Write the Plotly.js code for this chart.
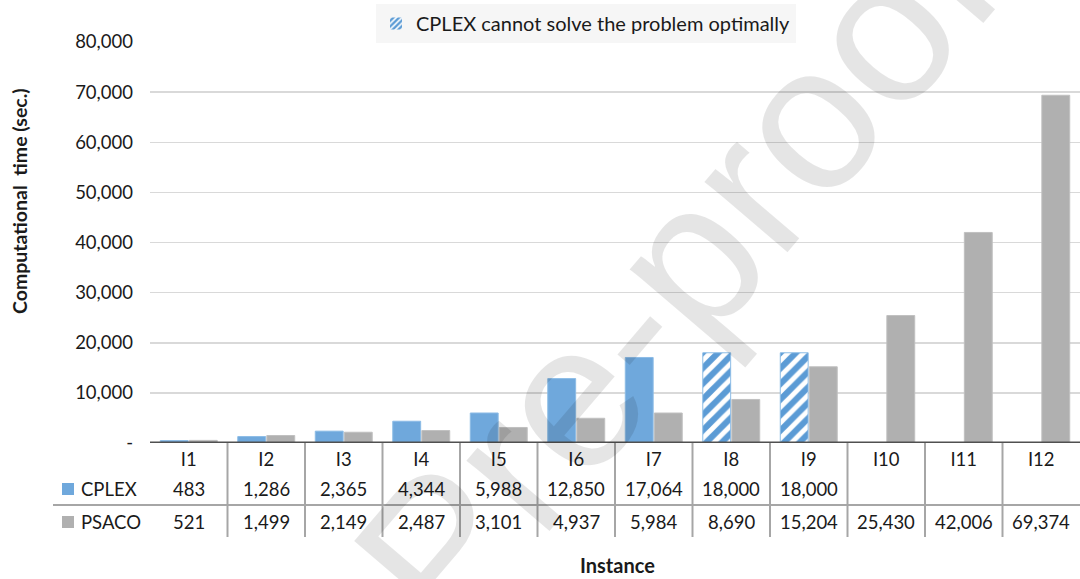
<!DOCTYPE html>
<html>
<head>
<meta charset="utf-8">
<script src="https://cdn.plot.ly/plotly-3.0.1.min.js"></script>
<style>html,body{margin:0;padding:0;background:#fff;}#chart{width:1080px;height:579px;}</style>
</head>
<body>
<div id="chart"></div>
<script>
// ---- data ----
const categories = ['I1','I2','I3','I4','I5','I6','I7','I8','I9','I10','I11','I12'];
const cplexValues = [483, 1286, 2365, 4344, 5988, 12850, 17064, 18000, 18000, null, null, null];
const psacoValues = [521, 1499, 2149, 2487, 3101, 4937, 5984, 8690, 15204, 25430, 42006, 69374];
const cplexNotOptimal = [false, false, false, false, false, false, false, true, true, false, false, false];
const seriesNames = ['CPLEX', 'PSACO'];
const legendLabel = 'CPLEX cannot solve the problem optimally';
const yTickVals = [0, 10000, 20000, 30000, 40000, 50000, 60000, 70000, 80000];
const yTickText = ['-', '10,000', '20,000', '30,000', '40,000', '50,000', '60,000', '70,000', '80,000'];
const yTitle = 'Computational&nbsp; time (sec.)';
const xTitle = 'Instance';
const watermark = 'Journal Pre-proof';

// ---- style ----
const FONT = 'Lato, "Open Sans", sans-serif';
const BLUE = 'rgb(111,168,220)';
const BLUE_EDGE = 'rgb(140,188,230)';
const HATCH_BLUE = 'rgb(91,155,213)';
const GRAY = 'rgb(176,176,176)';
const GRAY_EDGE = 'rgb(192,192,192)';
const TXT = '#1a1a1a';
const TABLE_LINE = '#a6a6a6';

// pixel helpers for paper coordinates (plot: x 150..1080, y 42..443)
const L = 150, R = 1080, T = 42, B = 443;
const px = v => (v - L) / (R - L);
const py = v => (B - v) / (B - T);

const fmt = v => (v === null || v === undefined) ? '' : v.toLocaleString('en-US');

const traces = [
  {
    type: 'bar', name: seriesNames[0], x: categories, y: cplexValues, showlegend: false,
    marker: {
      color: BLUE, line: {color: BLUE_EDGE, width: 1},
      pattern: {shape: cplexNotOptimal.map(b => b ? '/' : ''), fgcolor: '#ffffff', bgcolor: HATCH_BLUE, size: 11, solidity: 0.45}
    },
    hoverinfo: 'skip'
  },
  {
    type: 'bar', name: seriesNames[1], x: categories, y: psacoValues, showlegend: false,
    marker: {color: GRAY, line: {color: GRAY_EDGE, width: 1}},
    hoverinfo: 'skip'
  },
  {
    type: 'bar', name: legendLabel, x: [categories[0]], y: [null], xaxis: 'x2', yaxis: 'y2', showlegend: true,
    marker: {color: HATCH_BLUE, line: {width: 0}, pattern: {shape: '/', fgcolor: '#ffffff', bgcolor: HATCH_BLUE, size: 5, solidity: 0.4}}
  }
];

const annotations = [];
const shapes = [];

// table rows
const rows = [
  {name: seriesNames[0], vals: cplexValues, y: 489, color: BLUE},
  {name: seriesNames[1], vals: psacoValues, y: 522, color: GRAY}
];
rows.forEach(r => {
  categories.forEach((c, i) => {
    annotations.push({xref: 'x', yref: 'paper', x: c, y: py(r.y), text: fmt(r.vals[i]), showarrow: false,
      xanchor: 'center', yanchor: 'middle', font: {family: FONT, size: 18.5, color: TXT}});
  });
  annotations.push({xref: 'paper', yref: 'paper', x: px(79), y: py(r.y), text: r.name, showarrow: false,
    xanchor: 'left', yanchor: 'middle', font: {family: FONT, size: 18.5, color: TXT}});
  shapes.push({type: 'rect', xref: 'paper', yref: 'paper', x0: px(62), x1: px(74), y0: py(r.y - 6), y1: py(r.y + 6),
    fillcolor: r.color, line: {width: 0}});
});
// vertical table separators
for (let i = 0; i < categories.length - 1; i++) {
  shapes.push({type: 'line', xref: 'x', yref: 'paper', x0: i + 0.5, x1: i + 0.5, y0: py(B), y1: py(537),
    line: {color: TABLE_LINE, width: 2}});
}
// horizontal separator between rows
shapes.push({type: 'line', xref: 'paper', yref: 'paper', x0: px(53), x1: 1, y0: py(505), y1: py(505),
  line: {color: TABLE_LINE, width: 2}});
// category axis baseline
shapes.push({type: 'line', xref: 'paper', yref: 'y', x0: 0, x1: 1, y0: 0, y1: 0, layer: 'above',
  line: {color: '#505050', width: 3}});

// titles
annotations.push({xref: 'paper', yref: 'paper', x: px(20), y: py(201), text: yTitle, textangle: -90, showarrow: false,
  xanchor: 'center', yanchor: 'middle', font: {family: FONT, size: 19.5, color: TXT, weight: 'bold'}});
annotations.push({xref: 'paper', yref: 'paper', x: px(617), y: py(565), text: xTitle, showarrow: false,
  xanchor: 'center', yanchor: 'middle', font: {family: FONT, size: 20, color: TXT, weight: 'bold'}});

// watermark
annotations.push({xref: 'paper', yref: 'paper', x: px(438), y: py(552), text: watermark, textangle: -49.5,
  showarrow: false, xanchor: 'center', yanchor: 'middle',
  font: {family: '"Liberation Sans", Arial, sans-serif', size: 206, color: 'rgba(0,0,0,0.1)'}});

const layout = {
  width: 1080, height: 579,
  margin: {l: L, r: 1080 - R, t: T, b: 579 - B, pad: 0},
  paper_bgcolor: '#ffffff', plot_bgcolor: '#ffffff',
  font: {family: FONT, size: 18, color: TXT},
  barmode: 'group', bargap: 0.25, bargroupgap: 0.04,
  showlegend: true,
  legend: {orientation: 'h', x: px(586), xanchor: 'center', y: py(4), yanchor: 'top',
    bgcolor: '#f6f6f6', font: {family: FONT, size: 20, color: TXT}, itemwidth: 30, itemsizing: 'constant'},
  xaxis: {type: 'category', showgrid: false, zeroline: false, showline: false, ticks: '',
    tickfont: {family: FONT, size: 18.5, color: TXT}, ticklabelstandoff: 3, fixedrange: true},
  yaxis: {range: [0, 80000], tickvals: yTickVals, ticktext: yTickText, showgrid: true, gridcolor: '#d9d9d9', gridwidth: 1.5,
    zeroline: false, showline: false, ticks: '', tickfont: {family: FONT, size: 18.5, color: TXT}, ticklabelstandoff: 16, fixedrange: true},
  xaxis2: {overlaying: 'x', visible: false, type: 'category'},
  yaxis2: {overlaying: 'y', visible: false, range: [0, 1]},
  annotations: annotations,
  shapes: shapes
};

Plotly.newPlot('chart', traces, layout, {displayModeBar: false, staticPlot: true});
</script>
</body>
</html>
